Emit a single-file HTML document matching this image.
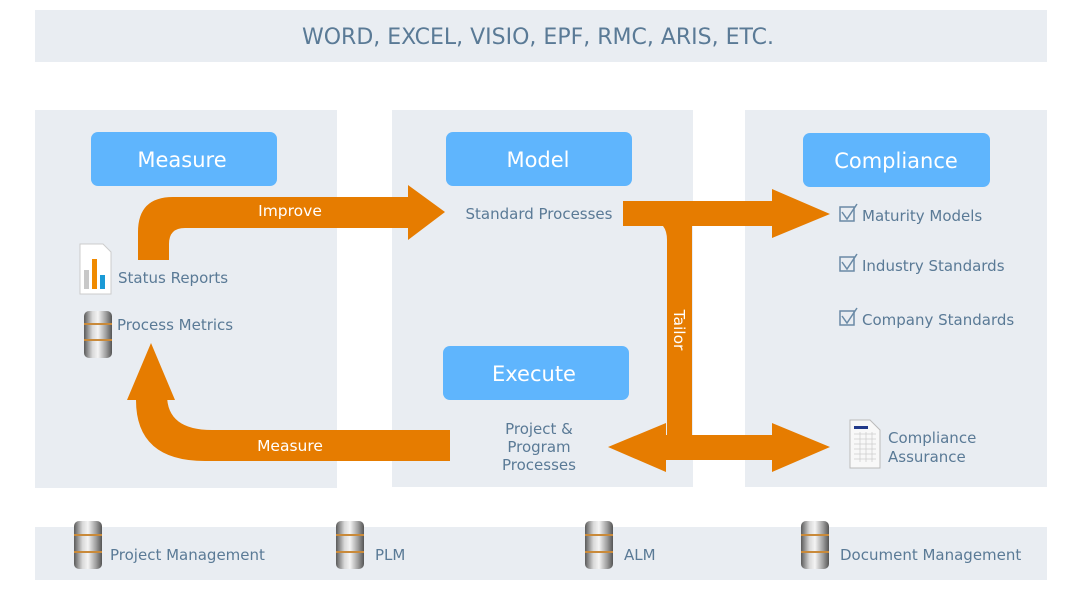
<!DOCTYPE html>
<html><head><meta charset="utf-8"><style>
html,body{margin:0;padding:0;background:#fff;}
svg{display:block;}
text{font-family:"DejaVu Sans","Liberation Sans",sans-serif;}
</style></head><body>
<svg width="1080" height="595" viewBox="0 0 1080 595" xmlns="http://www.w3.org/2000/svg">
<defs>
<linearGradient id="cyl" x1="0" x2="1" y1="0" y2="0">
<stop offset="0" stop-color="#5a5a5a"/><stop offset="0.3" stop-color="#d8d8d8"/><stop offset="0.5" stop-color="#f4f4f4"/><stop offset="0.8" stop-color="#9a9a9a"/><stop offset="1" stop-color="#555"/>
</linearGradient>
</defs>
<rect x="35" y="10" width="1012" height="52" fill="#e9edf2"/>
<text x="538" y="44" text-anchor="middle" font-size="22" fill="#5a7a96">WORD, EXCEL, VISIO, EPF, RMC, ARIS, ETC.</text>

<rect x="35" y="110" width="302" height="378" fill="#e9edf2"/>
<rect x="392" y="110" width="301" height="377" fill="#e9edf2"/>
<rect x="745" y="110" width="302" height="377" fill="#e9edf2"/>
<rect x="35" y="527" width="1012" height="53" fill="#e9edf2"/>

<g fill="#5fb5fd">
<rect x="91" y="132" width="186" height="54" rx="7"/>
<rect x="446" y="132" width="186" height="54" rx="7"/>
<rect x="803" y="133" width="187" height="54" rx="7"/>
<rect x="443" y="346" width="186" height="54" rx="7"/>
</g>
<g fill="#fff" font-size="21" text-anchor="middle">
<text x="182" y="167">Measure</text>
<text x="538" y="167">Model</text>
<text x="896" y="168">Compliance</text>
<text x="534" y="381">Execute</text>
</g>

<g fill="#e67c00">
<path d="M138 260 L138 232 Q138 197 173 197 L408 197 L408 185 L445 212 L408 240 L408 228 L185 228 Q169 228 169 244 L169 260 Z"/>
<path d="M450 430 L212 430 Q167 430 167 395 L167 400 L175 400 L151 343 L127 400 L136 400 Q136 461 205 461 L450 461 Z"/>
<path d="M623 201 L772 201 L772 189 L830 214 L772 238 L772 226 L623 226 Z"/>
<path d="M663 226 L692 226 L692 440 L667 440 L667 240 Q667 231 663 226 Z"/>
<path d="M608 447 L666 423 L666 435 L772 435 L772 423 L830 447 L772 472 L772 460 L666 460 L666 472 Z"/>
</g>
<g fill="#fff" font-size="15.5" text-anchor="middle">
<text x="290" y="216">Improve</text>
<text x="290" y="451">Measure</text>
<text transform="translate(674,330) rotate(90)" text-anchor="middle">Tailor</text>
</g>

<g fill="#5a7a96" font-size="15">
<text x="118" y="283">Status Reports</text>
<text x="117" y="330">Process Metrics</text>
<text x="539" y="219" text-anchor="middle">Standard Processes</text>
<text x="539" y="434" text-anchor="middle">Project &amp;</text>
<text x="539" y="452" text-anchor="middle">Program</text>
<text x="539" y="470" text-anchor="middle">Processes</text>
<text x="862" y="221">Maturity Models</text>
<text x="862" y="271">Industry Standards</text>
<text x="862" y="325">Company Standards</text>
<text x="888" y="443">Compliance</text>
<text x="888" y="462">Assurance</text>
<text x="110" y="560">Project Management</text>
<text x="375" y="560">PLM</text>
<text x="624" y="560">ALM</text>
<text x="840" y="560">Document Management</text>
</g>

<g fill="none" stroke="#6a8aa6" stroke-width="1.5">
<rect x="840" y="207" width="14" height="14"/><path d="M842 212 L847 219 L857 204"/>
<rect x="840" y="257" width="14" height="14"/><path d="M842 262 L847 269 L857 254"/>
<rect x="840" y="311" width="14" height="14"/><path d="M842 316 L847 323 L857 308"/>
</g>

<path d="M80 244 L103 244 L111 252 L111 294 L80 294 Z" fill="#fff" stroke="#ccc"/>
<rect x="84" y="270" width="5" height="19" fill="#c8c8c8"/>
<rect x="92" y="259" width="5" height="30" fill="#f08a00"/>
<rect x="100" y="275" width="5" height="14" fill="#1a9ad6"/>

<path d="M850 420 L870 420 L880 430 L880 468 L850 468 Z" fill="#f8f8f8" stroke="#bbb"/>
<rect x="854" y="426" width="14" height="3" fill="#223a8a"/>
<g stroke="#ccc" stroke-width="0.7">
<path d="M854 434 H876 M854 439 H876 M854 444 H876 M854 449 H876 M854 454 H876 M854 459 H876 M860 432 V462 M866 432 V462 M872 432 V462"/>
</g>

<g>
<rect x="84" y="311" width="28" height="47" rx="5" fill="url(#cyl)"/>
<path d="M84 324 H112 M84 340 H112" stroke="#c98a3a" stroke-width="2"/>
</g>
<g>
<rect x="74" y="521" width="28" height="48" rx="5" fill="url(#cyl)"/>
<path d="M74 535 H102 M74 552 H102" stroke="#c98a3a" stroke-width="2"/>
</g>
<g>
<rect x="336" y="521" width="28" height="48" rx="5" fill="url(#cyl)"/>
<path d="M336 535 H364 M336 552 H364" stroke="#c98a3a" stroke-width="2"/>
</g>
<g>
<rect x="585" y="521" width="28" height="48" rx="5" fill="url(#cyl)"/>
<path d="M585 535 H613 M585 552 H613" stroke="#c98a3a" stroke-width="2"/>
</g>
<g>
<rect x="801" y="521" width="28" height="48" rx="5" fill="url(#cyl)"/>
<path d="M801 535 H829 M801 552 H829" stroke="#c98a3a" stroke-width="2"/>
</g>
</svg>
</body></html>
